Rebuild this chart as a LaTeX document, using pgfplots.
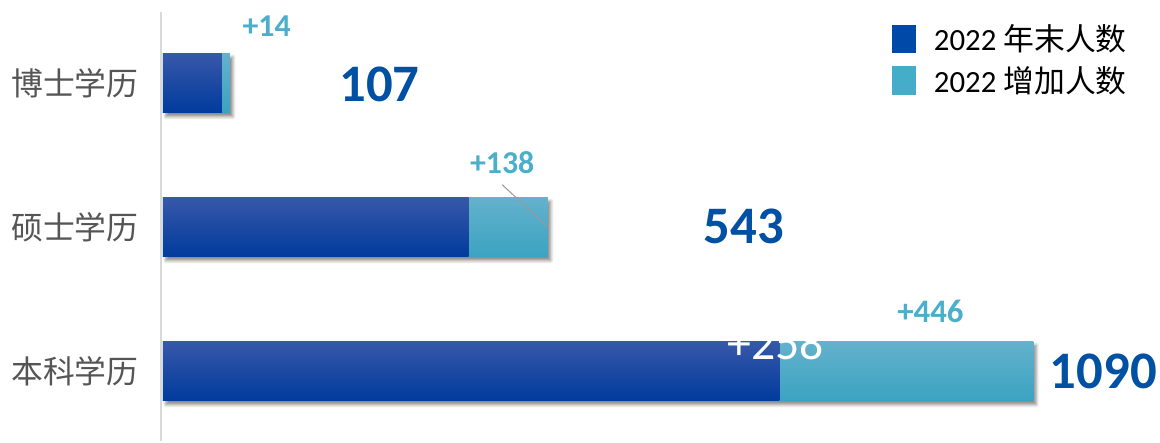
\documentclass[border=0pt]{standalone}
\usepackage{fontspec}
\setmainfont{Carlito}
\newfontfamily\cjk{Noto Sans CJK SC}
\usepackage{pgfplots}
\pgfplotsset{compat=1.18}
\usetikzlibrary{shadows.blur}
\definecolor{dkblue}{HTML}{0049A8}
\definecolor{dkblueTop}{HTML}{3858A9}
\definecolor{dkblueMid}{HTML}{0045A7}
\definecolor{dkblueBot}{HTML}{003B9D}
\definecolor{tealc}{HTML}{45ADCA}
\definecolor{tealTop}{HTML}{64B2CC}
\definecolor{tealBot}{HTML}{3BA3C2}
\definecolor{numblue}{HTML}{0050A4}
\definecolor{plusteal}{HTML}{4BAFCB}
\definecolor{catgray}{HTML}{555555}
\pgfplotsset{
  totbar/.style={draw=none, top color=tealTop, bottom color=tealBot,
    blur shadow={shadow xshift=3bp, shadow yshift=-4bp, shadow blur radius=3bp, shadow opacity=45}},
  dkbar/.style={draw=none, top color=dkblueTop, middle color=dkblueMid, bottom color=dkblueBot},
}
\begin{document}
\begin{tikzpicture}
\begin{axis}[
  width=1160bp, height=442bp, scale only axis,
  xmin=-203.75, xmax=1246.25,
  ymin=-0.4887, ymax=2.5754,
  xbar, bar shift=0pt, bar width=0.414,
  axis line style={draw=none},
  xtick=\empty,
  ytick={0,1,2},
  yticklabels={本科学历,硕士学历,博士学历},
  yticklabel style={font=\cjk\fontsize{32}{32}\selectfont, text=catgray, anchor=center, xshift=75bp},
  major tick length=0pt,
  clip=false,
  legend style={at={(0.7698,0.9480)}, anchor=north west, draw=none, fill=none,
    inner sep=0pt, outer sep=0pt, font=\fontsize{31}{36}\selectfont, row sep=10bp,
    /tikz/every odd column/.append style={column sep=17bp}},
  legend cell align=left,
]
\draw[color=black!15, line width=2.5bp] (axis cs:-2.5,-0.4887) -- (axis cs:-2.5,2.4922);
% full bars (teal part = 增加人数 segment)
\addplot[forget plot, totbar] coordinates {(1090,0)};
\addplot[forget plot, totbar] coordinates {(482,1)};
\addplot[forget plot, totbar] coordinates {(84,2)};
% dark segments
\addplot[forget plot, dkbar] coordinates {(772,0)};
\addplot[forget plot, dkbar] coordinates {(383,1)};
\addplot[forget plot, dkbar] coordinates {(74,2)};
\addlegendimage{legend image code/.code={\fill[dkblue] (0bp,-14bp) rectangle (23bp,14bp);}}
\addlegendentry{2022 {\cjk 年末人数}}
\addlegendimage{legend image code/.code={\fill[tealc] (0bp,-14bp) rectangle (23bp,14bp);}}
\addlegendentry{2022 {\cjk 增加人数}}
\coordinate (L1) at (rel axis cs:0.4336,0.5814);
\coordinate (L2) at (rel axis cs:0.4724,0.4864);
\coordinate (W258) at (rel axis cs:0.6698,0.1855);
\node[font=\bfseries\fontsize{32}{32}\selectfont, text=plusteal] at (rel axis cs:0.2302,0.9412) {+14};
\node[font=\bfseries\fontsize{32}{32}\selectfont, text=plusteal] at (rel axis cs:0.4336,0.6312) {+138};
\node[font=\bfseries\fontsize{33}{33}\selectfont, text=plusteal] at (rel axis cs:0.8034,0.2941) {+446};
\node[font=\bfseries\fontsize{53}{53}\selectfont, text=numblue] at (rel axis cs:0.3276,0.8077) {107};
\node[font=\bfseries\fontsize{53}{53}\selectfont, text=numblue] at (rel axis cs:0.6422,0.4864) {543};
\node[font=\bfseries\fontsize{53}{53}\selectfont, text=numblue] at (rel axis cs:0.9526,0.1584) {1090};
\end{axis}
\draw[color=black!40, line width=1bp] (L1) -- (L2);
\node[font=\fontsize{48}{48}\selectfont, text=white, anchor=base, inner sep=0pt] at (W258) {+258};
\end{tikzpicture}
\end{document}
